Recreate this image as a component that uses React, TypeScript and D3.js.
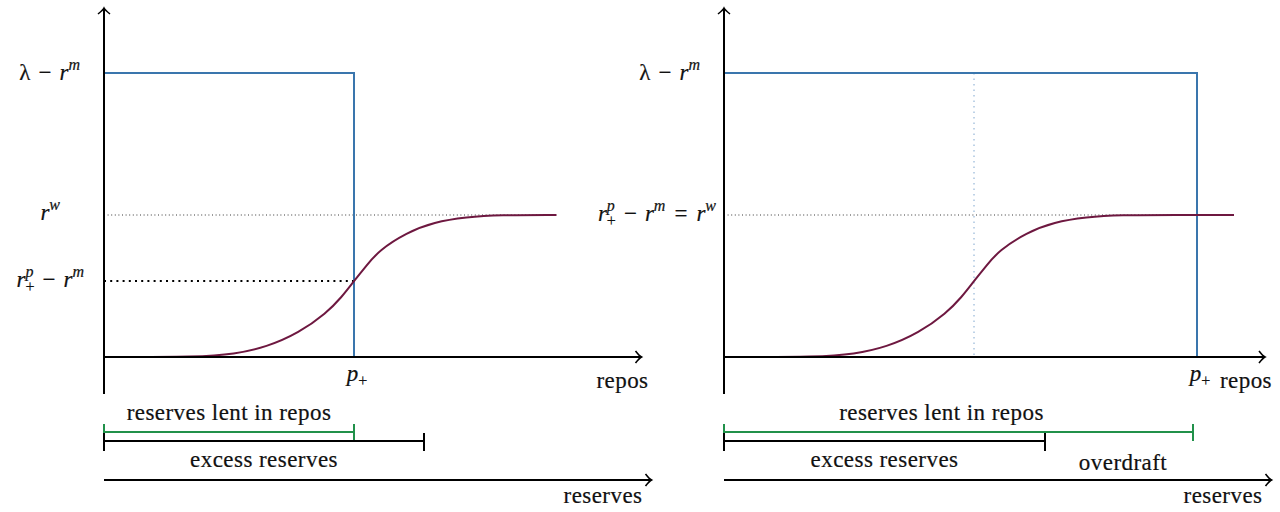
import { useEffect, useRef } from "react";
import * as d3 from "d3";

// sigmoid of the repo spread (x in repos, y in units of r^w)
const curveX = [0, 0.38, 0.52, 0.65, 0.78, 0.89, 0.95, 1.0, 1.05, 1.1, 1.21, 1.32, 1.45, 1.58, 1.81, 2.04];
const curveY = [0, 0, 0.02, 0.07, 0.17, 0.31, 0.42, 0.535, 0.645, 0.75, 0.875, 0.95, 0.985, 1, 1, 1];

// rate levels: lambda - r^m and r^w
const lambdaLevel = 2;
const rwLevel = 1;
const spreadLeft = 0.535;

// per panel values (left, right)
const pPlus = [1, 1.892];
const curveEnd = [1.81, 2.04];
const lentEnd = [1, 1.876];
const excessEnd = [1.28, 1.284];
const repoAxisEnd = [2.15, 2.164];
const reservesAxisEnd = [2.19, 2.19];
const midMark = [null, 1];

const BLUE = "#3a76ad";
const WINE = "#6e1840";
const GREEN = "#21914a";
const FONT = "'Liberation Serif', serif";

type Part = { t: string; it?: boolean; sup?: boolean; sub?: boolean; dx?: number; pad?: number };

function mathText(g: any, x: number, y: number, parts: Part[], anchor = "end") {
  const t = g
    .append("text")
    .attr("x", x)
    .attr("y", y)
    .attr("text-anchor", anchor)
    .style("font-family", FONT)
    .style("font-size", "23px")
    .style("fill", "#111")
    .style("stroke", "#111")
    .style("stroke-width", 0.2);
  let shift = 0;
  let pending = 0;
  parts.forEach((p) => {
    const target = p.sup ? -10 : p.sub ? 5 : 0;
    const ts = t
      .append("tspan")
      .attr("dy", target - shift)
      .style("font-size", p.sup || p.sub ? "16px" : "23px")
      .style("font-style", p.it ? "italic" : "normal")
      .text(p.t);
    const dx = (p.dx || 0) + pending;
    if (dx) ts.attr("dx", dx);
    pending = p.pad || 0;
    shift = target;
  });
  return t;
}

function arrow(g: any, x: number, y: number, dir: "up" | "right") {
  const d =
    dir === "right"
      ? `M${x - 6},${y - 6} Q${x - 2},${y - 1} ${x},${y} Q${x - 2},${y + 1} ${x - 6},${y + 6}`
      : `M${x - 6},${y + 6} Q${x - 1},${y + 2} ${x},${y} Q${x + 1},${y + 2} ${x + 6},${y + 6}`;
  g.append("path").attr("d", d).attr("fill", "none").attr("stroke", "#000").attr("stroke-width", 1.6);
}

function bar(g: any, x0: number, x1: number, y: number, color: string, h0: number, h1: number) {
  g.append("line").attr("x1", x0).attr("x2", x1).attr("y1", y).attr("y2", y)
    .attr("stroke", color).attr("stroke-width", 2);
  [x0, x1].forEach((x) =>
    g.append("line").attr("x1", x).attr("x2", x).attr("y1", y - h0).attr("y2", y + h1)
      .attr("stroke", color).attr("stroke-width", 2)
  );
}

function label(g: any, x: number, y: number, s: string, anchor = "middle") {
  g.append("text")
    .attr("x", x)
    .attr("y", y)
    .attr("text-anchor", anchor)
    .style("font-family", FONT)
    .style("font-size", "23px")
    .style("letter-spacing", "0.45px")
    .style("fill", "#111")
    .style("stroke", "#111")
    .style("stroke-width", 0.2)
    .text(s);
}

const minus: Part = { t: "−", dx: 8, pad: 8 };
const equals: Part = { t: "=", dx: 9, pad: 9 };

export default function App() {
  const ref = useRef<SVGSVGElement>(null);

  useEffect(() => {
    if (!ref.current) return;
    const svg = d3.select(ref.current);
    svg.selectAll("*").remove();

    const y = d3.scaleLinear().domain([0, lambdaLevel]).range([357, 73]);
    const originX = [104, 724];
    const curve = curveX.map((x, i) => ({ x, y: curveY[i] }));

    originX.forEach((ox, k) => {
      const x = d3.scaleLinear().domain([0, 1]).range([ox, ox + 250]);
      const g = svg.append("g");

      // r^w dotted guide
      g.append("line")
        .attr("x1", x(0)).attr("x2", x(curveEnd[k]))
        .attr("y1", y(rwLevel)).attr("y2", y(rwLevel))
        .attr("stroke", "#222").attr("stroke-width", 0.9).attr("stroke-dasharray", "1,2.6");

      if (k === 0) {
        g.append("line")
          .attr("x1", x(0)).attr("x2", x(pPlus[0]))
          .attr("y1", y(spreadLeft)).attr("y2", y(spreadLeft))
          .attr("stroke", "#000").attr("stroke-width", 2).attr("stroke-dasharray", "2,4.2");
      }
      if (midMark[k] != null) {
        g.append("line")
          .attr("x1", x(midMark[k] as number)).attr("x2", x(midMark[k] as number))
          .attr("y1", y(lambdaLevel)).attr("y2", y(0))
          .attr("stroke", "#7fa6cf").attr("stroke-width", 1).attr("stroke-dasharray", "1.5,4");
      }

      // blue step: lambda - r^m up to p+
      g.append("path")
        .attr("d", d3.line<[number, number]>()([
          [x(0), y(lambdaLevel)],
          [x(pPlus[k]), y(lambdaLevel)],
          [x(pPlus[k]), y(0)],
        ]))
        .attr("fill", "none").attr("stroke", BLUE).attr("stroke-width", 2);

      // sigmoid
      const pts = curve.filter((d) => d.x <= curveEnd[k] + 1e-9);
      g.append("path")
        .datum(pts)
        .attr("d", d3.line<{ x: number; y: number }>().x((d) => x(d.x)).y((d) => y(d.y)).curve(d3.curveBasis))
        .attr("fill", "none").attr("stroke", WINE).attr("stroke-width", 2);

      // axes
      g.append("line").attr("x1", x(0)).attr("x2", x(0)).attr("y1", y(-0.26)).attr("y2", 9)
        .attr("stroke", "#000").attr("stroke-width", 2);
      arrow(g, x(0), 8, "up");
      g.append("line").attr("x1", x(0)).attr("x2", x(repoAxisEnd[k])).attr("y1", y(0)).attr("y2", y(0))
        .attr("stroke", "#000").attr("stroke-width", 2);
      arrow(g, x(repoAxisEnd[k]), y(0), "right");

      mathText(g, x(pPlus[k]) + 3, 381, [{ t: "p", it: true }, { t: "+", sub: true }], "middle");
      label(g, x(repoAxisEnd[k]) + 7, 388, "repos", "end");

      // y labels
      mathText(g, ox - 24, y(lambdaLevel) + 7, [
        { t: "λ" },
        minus,
        { t: "r", it: true },
        { t: "m", it: true, sup: true },
      ]);
      if (k === 0) {
        mathText(g, ox - 44, y(rwLevel) + 5, [{ t: "r", it: true }, { t: "w", it: true, sup: true }]);
        mathText(g, ox - 20, y(spreadLeft) + 6, [
          { t: "r", it: true },
          { t: "p", it: true, sup: true },
          { t: "+", sub: true, dx: -8 },
          minus,
          { t: "r", it: true },
          { t: "m", it: true, sup: true },
        ]);
      } else {
        mathText(g, ox - 8, y(rwLevel) + 6, [
          { t: "r", it: true },
          { t: "p", it: true, sup: true },
          { t: "+", sub: true, dx: -8 },
          minus,
          { t: "r", it: true },
          { t: "m", it: true, sup: true },
          equals,
          { t: "r", it: true },
          { t: "w", it: true, sup: true },
        ]);
      }

      // reserve bars
      bar(g, x(0), x(lentEnd[k]), 432, GREEN, 8, 9);
      bar(g, x(0), x(excessEnd[k]), 441, "#000", 8, 10);
      label(g, (x(0) + x(lentEnd[k])) / 2 + (k === 0 ? 0 : -17), 420, "reserves lent in repos");
      label(g, (x(0) + x(excessEnd[k])) / 2, 467, "excess reserves");
      if (k === 1) label(g, (x(excessEnd[k]) + x(lentEnd[k])) / 2 + 4, 470, "overdraft");

      g.append("line").attr("x1", x(0)).attr("x2", x(reservesAxisEnd[k])).attr("y1", 480).attr("y2", 480)
        .attr("stroke", "#000").attr("stroke-width", 2);
      arrow(g, x(reservesAxisEnd[k]), 480, "right");
      label(g, x(reservesAxisEnd[k]) - 9, 503, "reserves", "end");
    });
  }, []);

  return (
    <svg
      ref={ref}
      width={1280}
      height={512}
      style={{ position: "absolute", left: 0, top: 0, background: "#fff" }}
    />
  );
}
